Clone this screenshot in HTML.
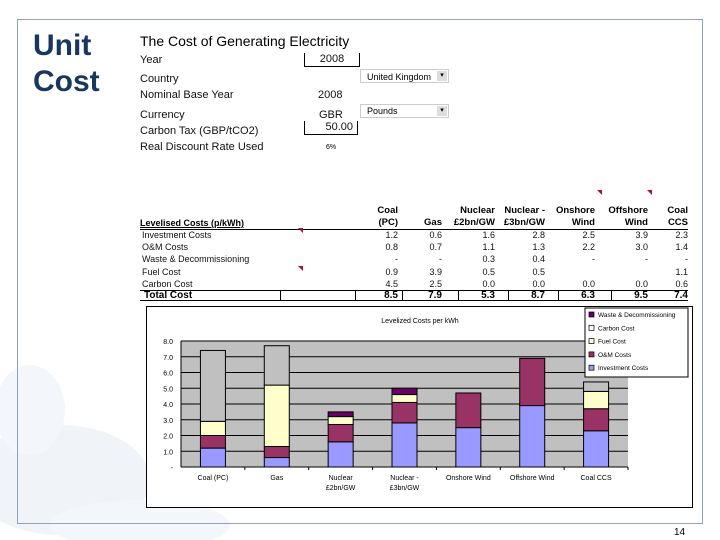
<!DOCTYPE html>
<html><head><meta charset="utf-8"><style>
body{margin:0;width:720px;height:540px;background:#fff;position:relative;overflow:hidden;font-family:"Liberation Sans",sans-serif;}
.abs{position:absolute;white-space:nowrap;}
.lbl{font-size:11px;color:#111;}
.tbl{font-size:9px;color:#111;}
.num{text-align:right;width:40px;}
.hd{font-size:10px;font-weight:bold;text-align:right;line-height:12px;}
</style></head><body>
<svg class="abs" style="left:0;top:0" width="720" height="540">
<ellipse cx="60" cy="480" rx="90" ry="55" fill="#f0f4f9"/>
<ellipse cx="140" cy="525" rx="90" ry="25" fill="#f3f6fa"/>
<ellipse cx="30" cy="410" rx="35" ry="45" fill="#f3f6fa"/>
</svg>
<div class="abs" style="left:17px;top:19px;width:684px;height:503px;border:1px solid #8fa4b8;"></div>
<div class="abs" style="left:33px;top:28px;font-size:30px;font-weight:bold;color:#17375e;line-height:36px;white-space:normal;width:90px">Unit<br>Cost</div>
<div class="abs" style="left:140px;top:33px;font-size:14px;color:#000">The Cost of Generating Electricity</div>
<div class="abs lbl" style="left:140px;top:54px">Year</div>
<div class="abs lbl" style="left:304px;top:53px;width:54px;height:13px;border:1px solid #000;border-top:none;text-align:center">2008</div>
<div class="abs lbl" style="left:140px;top:73px">Country</div>
<div class="abs" style="left:360px;top:69px;width:89px;height:14px;border:1px solid #ccc;font-size:9px;line-height:14px;padding-left:6px;box-sizing:border-box">United Kingdom<span style="position:absolute;right:1px;top:1px;width:10px;height:10px;background:#ddd;font-size:7px;text-align:center;line-height:10px">▾</span></div>
<div class="abs lbl" style="left:140px;top:89px">Nominal Base Year</div>
<div class="abs lbl" style="left:318px;top:89px">2008</div>
<div class="abs lbl" style="left:140px;top:109px">Currency</div>
<div class="abs lbl" style="left:319px;top:109px">GBR</div>
<div class="abs" style="left:360px;top:104px;width:89px;height:14px;border:1px solid #ccc;font-size:9px;line-height:12px;padding-left:6px;box-sizing:border-box">Pounds<span style="position:absolute;right:1px;top:1px;width:10px;height:10px;background:#ddd;font-size:7px;text-align:center;line-height:10px">▾</span></div>
<div class="abs lbl" style="left:140px;top:125px">Carbon Tax (GBP/tCO2)</div>
<div class="abs lbl" style="left:304px;top:121px;width:54px;height:14px;border:1px solid #000;border-top:none;text-align:right;padding-right:4px;box-sizing:border-box">50.00</div>
<div class="abs lbl" style="left:140px;top:141px">Real Discount Rate Used</div>
<div class="abs" style="left:326px;top:144px;font-size:7px">6%</div>

<div id="table"></div>
<div class="abs" style="left:146px;top:306px;width:545px;height:200px;border:1px solid #000;background:#fff"></div>
<svg id="chart" class="abs" style="left:0;top:0" width="720" height="540"></svg>
<div class="abs" style="left:674px;top:527px;font-size:10px">14</div>
<script>
const categories=["Coal (PC)","Gas","Nuclear - £2bn/GW","Nuclear - £3bn/GW","Onshore Wind","Offshore Wind","Coal CCS"];
const catLines=[["Coal (PC)"],["Gas"],["Nuclear","£2bn/GW"],["Nuclear -","£3bn/GW"],["Onshore Wind"],["Offshore Wind"],["Coal CCS"]];
const headLines=[["Coal","(PC)"],["","Gas"],["Nuclear","£2bn/GW"],["Nuclear -","£3bn/GW"],["Onshore","Wind"],["Offshore","Wind"],["Coal","CCS"]];
const investment=[1.2,0.6,1.6,2.8,2.5,3.9,2.3];
const om=[0.8,0.7,1.1,1.3,2.2,3.0,1.4];
const waste=[0,0,0.3,0.4,0,0,0];
const fuel=[0.9,3.9,0.5,0.5,0,0,1.1];
const carbon=[4.5,2.5,0,0,0,0,0.6];
const totals=[8.5,7.9,5.3,8.7,6.3,9.5,7.4];
const yTicks=[0,1,2,3,4,5,6,7,8];
const NS='http://www.w3.org/2000/svg';
const T=document.getElementById('table');
function div(x,y,txt,cls,name,extra){const d=document.createElement('div');d.className='abs '+cls;d.style.left=x+'px';d.style.top=y+'px';if(extra)d.style.cssText+=extra;d.innerHTML=txt;


T.appendChild(d);return d;}
const colR=[398,442,495,545,595,648,688];
div(140,217,'<u>Levelised Costs (p/kWh)</u>','hd','table-header-label','text-align:left;font-size:9px');
headLines.forEach((h,i)=>{div(colR[i]-60,205,h[0]+'<br>'+h[1],'hd','column-header','width:60px;font-size:9.5px');});
const rows=[["Investment Costs",investment],["O&M Costs",om],["Waste & Decommissioning",waste],["Fuel Cost",fuel],["Carbon Cost",carbon]];
rows.forEach((r,ri)=>{const y=230+ri*12.2;div(142,y,r[0],'tbl','row-label');
r[1].forEach((v,i)=>{let t=v===0?(ri==2||(ri<2)?'-':(ri==4?'0.0':'')):v.toFixed(1);if(ri==4&&(i==4))t='0.0';if(ri==3&&(i==4||i==5))t='';if(ri==2&&v===0)t='-';
div(colR[i]-40,y,t,'tbl num','table-cell');});});
div(140,229,'','', 'header-rule','width:548px;border-top:1px solid #000;height:0');
div(140,290,'','', 'total-top-rule','width:548px;border-top:1px solid #000;height:0');
div(140,300,'','', 'total-bottom-rule','width:548px;border-top:1px solid #000;height:0');
div(144,290,'Total Cost','hd','total-label','text-align:left;font-size:10px');
const seps=[280,355,402,458,508,558,611];
seps.forEach(x=>div(x,290,'','','total-separator','height:10px;border-left:1px solid #000;width:0'));
totals.forEach((v,i)=>div(colR[i]-40,290,v.toFixed(1),'hd num','total-cell','font-size:10px'));
[[298,228],[298,266],[597,190],[647,190]].forEach(p=>div(p[0],p[1],'','','comment-marker','width:0;height:0;border-top:5px solid #b0102a;border-left:5px solid transparent'));
const S=document.getElementById('chart');
function el(t,a,txt){const e=document.createElementNS(NS,t);for(const k in a)e.setAttribute(k,a[k]);if(txt!==undefined)e.textContent=txt;S.appendChild(e);return e;}
const PL=181,PR=628,PT=341,PB=467,YMAX=8;
const y=v=>PB-(v/YMAX)*(PB-PT);
const bw=(PR-PL)/categories.length;
const x=i=>PL+bw*(i+0.5);
let r=el('rect',{x:PL,y:PT,width:PR-PL,height:PB-PT,fill:'#c0c0c0'});


yTicks.forEach(t=>{if(t>0){let g=el('line',{x1:PL,x2:PR,y1:y(t),y2:y(t),stroke:'#000','stroke-width':1});

}
let tx=el('text',{x:PL-8,y:y(t)+3,'font-size':7,'text-anchor':'end'},t===0?'-':t.toFixed(1));

});
el('line',{x1:PL,x2:PR,y1:PB,y2:PB,stroke:'#000'});
el('line',{x1:PL,x2:PL,y1:PT,y2:PB,stroke:'#000'});
const series=[["investment",investment,'#9999ff'],["om",om,'#993366'],["fuel",fuel,'#ffffcc'],["carbon",carbon,'#c0c0c0'],["waste",waste,'#660066']];
categories.forEach((c,i)=>{let base=0;series.forEach(s=>{const v=s[1][i];if(v<=0)return;
const b=el('rect',{x:x(i)-12.5,y:y(base+v),width:25,height:y(base)-y(base+v),fill:s[2],stroke:'#000','stroke-width':1});


base+=v;});
const tk=el('line',{x1:PL+bw*(i+1),x2:PL+bw*(i+1),y1:PB,y2:PB+3,stroke:'#000'});
catLines[i].forEach((ln,k)=>{const t=el('text',{x:x(i),y:PB+13+k*10,'font-size':7,'text-anchor':'middle'},ln);

});});
const ct=el('text',{x:420,y:323,'font-size':7,'text-anchor':'middle'},'Levelized Costs per kWh');


const lg=el('rect',{x:585,y:308,width:103,height:69,fill:'#fff',stroke:'#000'});


[["Waste & Decommissioning",'#660066'],["Carbon Cost",'#fff'],["Fuel Cost",'#ffffcc'],["O&M Costs",'#993366'],["Investment Costs",'#9999ff']].forEach((e,k)=>{const yy=316+k*13.3;
const sw=el('rect',{x:589,y:yy-4,width:5,height:5,fill:e[1],stroke:'#000','stroke-width':0.7});


const t=el('text',{x:598,y:yy+1,'font-size':6.5},e[0]);

});
</script>
</body></html>
